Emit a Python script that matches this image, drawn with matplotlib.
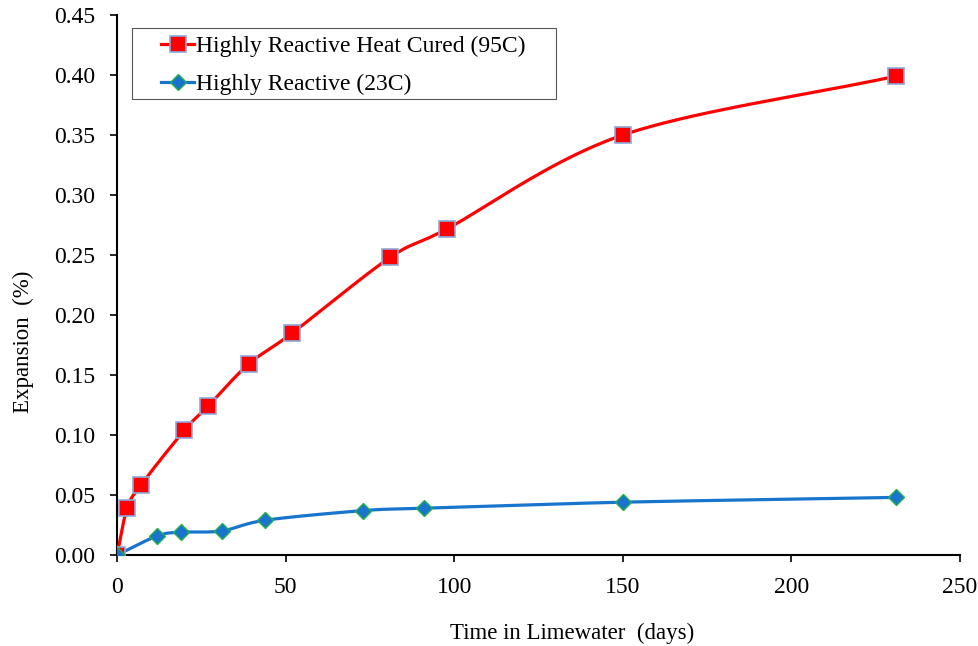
import numpy as np
import matplotlib
matplotlib.use("Agg")
import matplotlib.pyplot as plt
from matplotlib.patches import Rectangle

# data
days_hot = [0, 3, 7, 20, 27, 39, 52, 81, 98, 150, 231]
exp_hot = [0.000, 0.039, 0.058, 0.104, 0.124, 0.159, 0.185, 0.248, 0.272, 0.350, 0.399]
days_23 = [0, 12, 19, 31, 44, 73, 91, 150, 231]
exp_23 = [0.000, 0.016, 0.019, 0.020, 0.029, 0.037, 0.039, 0.044, 0.048]
labels = ['Highly Reactive Heat Cured (95C)', 'Highly Reactive (23C)']


def smooth(x, y, sx=250.0, sy=0.45, n=40):
    """Catmull-Rom style smoothing similar to Excel's smoothed line"""
    p = np.column_stack([np.asarray(x) / sx, np.asarray(y) / sy])
    p = np.vstack([p[0] - (p[1] - p[0]), p, p[-1] + (p[-1] - p[-2])])
    out = []
    t = np.linspace(0, 1, n)[:, None]
    for i in range(1, len(p) - 2):
        p0, p1, p2, p3 = p[i - 1], p[i], p[i + 1], p[i + 2]
        m1 = (p2 - p0) / 2 * 0.95
        m2 = (p3 - p1) / 2 * 0.95
        h00 = 2 * t**3 - 3 * t**2 + 1
        h10 = t**3 - 2 * t**2 + t
        h01 = -2 * t**3 + 3 * t**2
        h11 = t**3 - t**2
        out.append(h00 * p1 + h10 * m1 + h01 * p2 + h11 * m2)
    c = np.vstack(out)
    return c[:, 0] * sx, c[:, 1] * sy


plt.rcParams['font.family'] = ['Liberation Serif', 'DejaVu Serif']

W, H = 979, 646
fig = plt.figure(figsize=(W / 100, H / 100), dpi=100)
ax = fig.add_axes([117 / W, 1 - 555 / H, 843 / W, 540 / H])

red = '#ff0000'
blue = '#1874cd'
sq = dict(marker='s', ms=11, mfc=red, mec='#8ea9db', mew=1.2)
di = dict(marker='D', ms=8.5, mfc=blue, mec='#22b14c', mew=1.0)

xs, ys = smooth(days_hot, exp_hot)
ax.plot(xs, ys, color=red, lw=2.3, zorder=3)
ax.plot(days_hot, exp_hot, ls='none', zorder=4, **sq)

xs, ys = smooth(days_23, exp_23)
ax.plot(xs, ys, color=blue, lw=2.3, zorder=3)
ax.plot(days_23, exp_23, ls='none', zorder=5, **di)

# legend proxies
h1, = ax.plot([], [], color=red, lw=2.3, **sq)
h2, = ax.plot([], [], color=blue, lw=2.3, **di)
fig.legend([h1, h2], labels, loc='center left',
           bbox_to_anchor=(161 / W, 1 - 65.5 / H), fontsize=17,
           frameon=False, handlelength=1.4, handletextpad=0.1,
           borderpad=0, labelspacing=0.7, borderaxespad=0)
fig.patches.append(Rectangle((132 / W, 1 - 99 / H), 424 / W, 71 / H,
                             transform=fig.transFigure, fill=False,
                             edgecolor='#555555', lw=0.8))

ax.set_xlim(0, 250)
ax.set_ylim(0, 0.45)
ax.set_xticks(np.arange(0, 251, 50))
yt = np.arange(0, 0.451, 0.05)
ax.set_yticks(yt)
ax.set_yticklabels([f'{v:.2f}' for v in yt])
ax.tick_params(direction='out', length=5, width=1.2, labelsize=17, pad=11)
ax.spines['top'].set_visible(False)
ax.spines['right'].set_visible(False)
ax.spines['left'].set_linewidth(1.5)
ax.spines['bottom'].set_linewidth(1.5)

fig.text(572 / W, 1 - 633 / H, 'Time in Limewater  (days)', fontsize=16.5,
         ha='center', va='center')
fig.text(23 / W, 1 - 342 / H, 'Expansion  (%)', fontsize=16.5,
         ha='center', va='center', rotation=90)

fig.savefig('out.png', dpi=100, facecolor='white')
